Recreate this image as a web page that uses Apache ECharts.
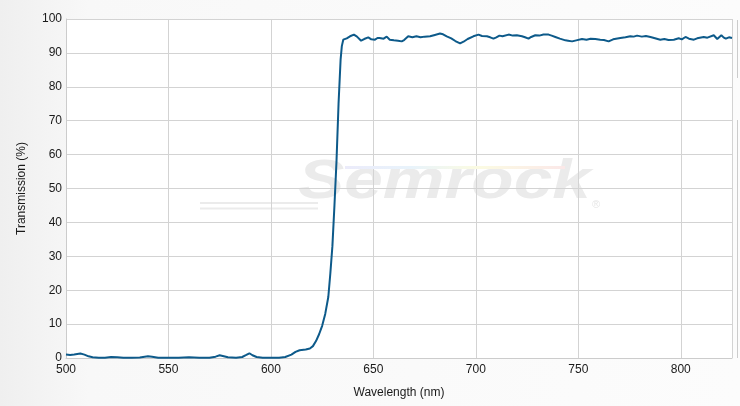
<!DOCTYPE html>
<html>
<head>
<meta charset="utf-8">
<script src="https://cdn.jsdelivr.net/npm/echarts@6/dist/echarts.min.js"></script>
<style>
html,body{margin:0;padding:0;background:#fff;}
#chart{width:740px;height:406px;}
</style>
</head>
<body>
<div id="chart"></div>
<script>
// Wavelength (nm)
var wavelength = [
500,502,504,507,509,511,513,516,519,522,525,528,532,536,540,542,545,550,555,560,565,570,573,575,577,579,583,586,588,589.5,591,593,596,600,604,607,610,612,614,617,619,620.5,622,623.5,625,626.5,628,629,630,631,632,633,634,634.6,635.3,
637,638.6,640.5,642,644,645.5,647.5,649,650.8,652,653,655,656.5,658,660,662,663.8,665,667,669,671,673,675,677.7,680,682.5,684,685.8,688,690,692.3,694,696,698.8,
701.3,703,705.4,707,708.6,710,711.5,713,716,718,720,722.5,724,725.7,727,729,731,733,735.5,737,738.8,741,743.7,745,747,749,751.8,754,756,758.3,760.7,762.5,764.8,767,770.5,773,775.4,777,778.7,781,783,785.2,787,790,792,794,796.6,799,800.5,802.3,804,806.4,808,811.2,813,816.1,817.8,819.8,821,822,823.5,825
];
// Transmission (%)
var transmission = [
1.0,0.9,1.0,1.3,1.0,0.5,0.2,0.05,0.1,0.3,0.25,0.1,0.05,0.15,0.5,0.35,0.1,0.05,0.1,0.2,0.1,0.1,0.4,0.8,0.5,0.2,0.1,0.3,0.9,1.4,0.8,0.3,0.1,0.05,0.05,0.3,1.0,1.8,2.3,2.5,2.8,3.5,5.0,7.0,9.5,13,18,25,33,45,58,75,88,92,93.9,
94.3,94.9,95.4,94.8,93.6,94.1,94.6,94.0,93.9,94.4,94.4,94.2,94.8,93.9,93.7,93.6,93.4,93.8,94.9,94.6,94.9,94.6,94.8,94.9,95.3,95.7,95.5,94.9,94.3,93.5,92.8,93.3,94.1,94.9,
95.4,95.0,94.9,94.6,94.2,94.6,95.1,94.9,95.4,95.1,95.2,94.9,94.6,94.2,94.7,95.2,95.1,95.4,95.4,95.1,94.7,94.2,93.7,93.6,93.4,93.7,94.1,93.9,94.2,94.1,93.9,93.8,93.4,94.0,94.4,94.6,94.9,94.8,95.1,94.8,95.0,94.7,94.4,93.9,94.1,93.8,93.9,94.3,94.0,94.7,94.2,93.9,94.3,94.7,94.5,95.2,94.1,95.2,94.5,94.2,94.6,94.4
];
var xTicks = [500,550,600,650,700,750,800];
var yTicks = [0,10,20,30,40,50,60,70,80,90,100];

var seriesData = wavelength.map(function(w,i){return [w, transmission[i]];});

var chart = echarts.init(document.getElementById('chart'), null, {renderer:'canvas'});
var font = 'Arial, "Liberation Sans", sans-serif';
chart.setOption({
  animation:false,
  backgroundColor:{type:'linear',x:0,y:0,x2:1,y2:0,colorStops:[
    {offset:0,color:'#efefef'},{offset:0.12,color:'#f8f8f8'},{offset:1,color:'#fcfcfc'}]},
  grid:{left:66,right:8,top:19,bottom:48,show:true,backgroundColor:'#ffffff',borderWidth:0},
  xAxis:{
    type:'value',min:500,max:825,interval:50,
    name:'Wavelength (nm)',nameLocation:'middle',nameGap:29,
    nameTextStyle:{fontFamily:font,fontSize:12,color:'#1a1a1a'},
    axisLine:{show:true,lineStyle:{color:'#cccccc'}},
    axisTick:{show:false},
    axisLabel:{fontFamily:font,fontSize:12,color:'#1a1a1a',margin:6,
      formatter:function(v){return xTicks.indexOf(v)>=0?String(v):'';}},
    splitLine:{show:true,lineStyle:{color:'#d3d3d3',width:1}}
  },
  yAxis:{
    type:'value',min:0,max:100,interval:10,
    name:'Transmission (%)',nameLocation:'middle',nameGap:38,
    nameTextStyle:{fontFamily:font,fontSize:12,color:'#1a1a1a'},
    axisLine:{show:true,lineStyle:{color:'#cccccc'}},
    axisTick:{show:false},
    axisLabel:{fontFamily:font,fontSize:12,color:'#1a1a1a',margin:4,
      formatter:function(v){return yTicks.indexOf(v)>=0?String(v):'';}},
    splitLine:{show:true,lineStyle:{color:'#d3d3d3',width:1}}
  },
  graphic:[
    {type:'text',z:0,x:298,y:210,scaleX:1.26,
     style:{text:'Semrock',fontFamily:font,fontSize:55,fontWeight:'bold',fontStyle:'italic',
       fill:'#ebebeb',textVerticalAlign:'bottom',textBaseline:'bottom'}},
    {type:'rect',z:1,shape:{x:345,y:166,width:220,height:3},
     style:{fill:{type:'linear',x:0,y:0,x2:1,y2:0,colorStops:[
       {offset:0,color:'#ebebfa'},{offset:0.3,color:'#e8f3fb'},
       {offset:0.6,color:'#fbfbe2'},{offset:1,color:'#fbe8e8'}]}}},
    {type:'line',z:0,shape:{x1:200,y1:203,x2:318,y2:203},style:{stroke:'#ebebeb',lineWidth:2}},
    {type:'line',z:0,shape:{x1:200,y1:208.5,x2:318,y2:208.5},style:{stroke:'#ebebeb',lineWidth:2}},
    {type:'text',z:0,x:592,y:199,
     style:{text:'®',fontFamily:font,fontSize:11,fill:'#e6e6e6'}},
    {type:'line',shape:{x1:737.5,y1:20,x2:737.5,y2:78},style:{stroke:'#cccccc',lineWidth:1}},
    {type:'line',shape:{x1:737.5,y1:120,x2:737.5,y2:358},style:{stroke:'#cccccc',lineWidth:1}}
  ],
  series:[{
    type:'line',data:seriesData,showSymbol:false,smooth:false,
    lineStyle:{color:'#0d5a8a',width:2},
    z:3
  }]
});
</script>
</body>
</html>
